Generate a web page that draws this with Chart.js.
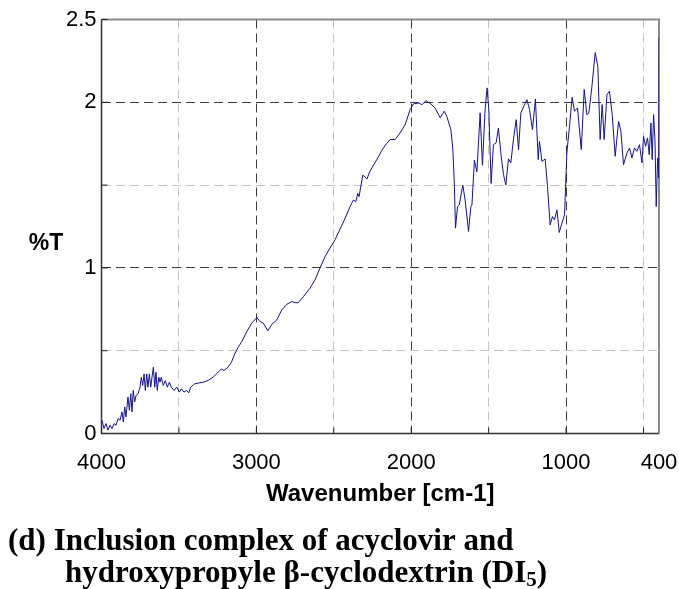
<!DOCTYPE html>
<html>
<head>
<meta charset="utf-8">
<title>FTIR DI5</title>
<script src="https://cdn.jsdelivr.net/npm/chart.js@4.4.0/dist/chart.umd.min.js"></script>
<style>
  body { margin: 0; background: #fff; }
</style>
</head>
<body>
<canvas id="myChartIR" width="679" height="589"></canvas>
<script>

// spectrum values (cm-1 , %T)
var wavenumber = [
  3997, 3984, 3971, 3958, 3945, 3932, 3919, 3906, 3893, 3880, 3868, 3859, 3850, 3842, 3829, 3820,
  3811, 3803, 3795, 3786, 3777, 3764, 3751, 3743, 3734, 3725, 3717, 3708, 3700, 3691, 3682, 3674,
  3665, 3656, 3648, 3640, 3630, 3622, 3614, 3601, 3588, 3575, 3562, 3549, 3532, 3514, 3497, 3484,
  3467, 3450, 3437, 3424, 3398, 3372, 3342, 3312, 3280, 3252, 3226, 3209, 3183, 3161, 3140, 3118,
  3094, 3062, 3030, 2997, 2976, 2955, 2926, 2900, 2868, 2836, 2804, 2771, 2750, 2729, 2696, 2653,
  2621, 2589, 2556, 2524, 2492, 2459, 2427, 2395, 2373, 2358, 2345, 2337, 2324, 2313, 2298, 2285,
  2272, 2244, 2212, 2190, 2160, 2136, 2104, 2072, 2039, 2007, 1986, 1953, 1931, 1904, 1873, 1846,
  1813, 1787, 1770, 1744, 1731, 1721, 1714, 1701, 1690, 1667, 1652, 1630, 1615, 1608, 1592, 1576,
  1555, 1540, 1523, 1510, 1499, 1484, 1469, 1452, 1437, 1419, 1404, 1389, 1372, 1357, 1340, 1322,
  1307, 1292, 1271, 1253, 1236, 1217, 1198, 1180, 1172, 1156, 1135, 1120, 1103, 1088, 1075, 1059,
  1044, 1027, 1010, 995, 978, 961, 946, 926, 902, 883, 866, 853, 833, 812, 795, 780,
  767, 754, 736, 720, 702, 683, 661, 646, 629, 607, 590, 575, 558, 543, 526, 510,
  500, 487, 474, 463, 452, 444, 435, 426, 418, 409, 402, 400
];
var transmittance = [
  0.08, 0.03, 0.06, 0.02, 0.05, 0.03, 0.06, 0.05, 0.09, 0.08, 0.13, 0.07, 0.16, 0.10, 0.22, 0.14,
  0.24, 0.13, 0.26, 0.19, 0.23, 0.24, 0.28, 0.34, 0.29, 0.36, 0.26, 0.36, 0.28, 0.36, 0.28, 0.34,
  0.40, 0.28, 0.37, 0.26, 0.34, 0.31, 0.34, 0.29, 0.32, 0.28, 0.31, 0.28, 0.26, 0.28, 0.25, 0.27,
  0.25, 0.26, 0.245, 0.28, 0.30, 0.305, 0.31, 0.32, 0.34, 0.365, 0.39, 0.38, 0.40, 0.43, 0.48, 0.52,
  0.555, 0.615, 0.666, 0.70, 0.676, 0.666, 0.62, 0.66, 0.686, 0.746, 0.78, 0.797, 0.79, 0.79, 0.827, 0.878,
  0.928, 0.999, 1.069, 1.12, 1.17, 1.235, 1.30, 1.37, 1.41, 1.40, 1.45, 1.43, 1.50, 1.56, 1.55, 1.537,
  1.573, 1.62, 1.67, 1.71, 1.75, 1.775, 1.775, 1.815, 1.865, 1.956, 1.99, 1.996, 1.986, 2.01, 1.99, 1.966,
  1.906, 1.946, 1.915, 1.835, 1.714, 1.49, 1.24, 1.37, 1.38, 1.50, 1.41, 1.22, 1.37, 1.38, 1.65, 1.58,
  1.936, 1.62, 1.956, 2.087, 1.956, 1.51, 1.744, 1.755, 1.845, 1.674, 1.563, 1.50, 1.658, 1.634, 1.775, 1.895,
  1.714, 1.936, 1.98, 2.016, 1.956, 1.835, 2.02, 1.654, 1.764, 1.643, 1.658, 1.49, 1.26, 1.31, 1.29, 1.35,
  1.214, 1.27, 1.32, 1.694, 1.855, 2.03, 1.946, 1.966, 1.714, 2.077, 1.926, 1.936, 2.097, 2.30, 2.218, 1.775,
  1.986, 1.775, 2.047, 2.067, 1.926, 1.674, 1.885, 1.825, 1.623, 1.694, 1.724, 1.664, 1.724, 1.704, 1.744, 1.634,
  1.794, 1.734, 1.785, 1.684, 1.875, 1.654, 1.926, 1.775, 1.37, 1.664, 1.543, 2.39
];

// axis ticks
var xTickValues = [4000, 3500, 3000, 2500, 2000, 1500, 1000, 500, 400];
var xLabelValues = [4000, 3000, 2000, 1000, 400];
var xMajorGrid = [3000, 2000, 1000];
var yTickValues = [0, 0.5, 1, 1.5, 2, 2.5];
var yLabelValues = [0, 1, 2, 2.5];
var yMajorGrid = [1, 2];

var xTitle = 'Wavenumber [cm-1]';
var yTitle = '%T';
var captionLine1 = '(d) Inclusion complex of acyclovir and';
var captionLine2 = 'hydroxypropyle \u03b2-cyclodextrin (DI';
var captionSub = '5';

var points = wavenumber.map(function (w, i) { return { x: w, y: transmittance[i] }; });

function gridColor(ctx, major, edges) {
  var v = ctx.tick ? ctx.tick.value : null;
  if (edges.indexOf(v) >= 0) return 'rgba(0,0,0,0)';
  if (major.indexOf(v) >= 0) return '#3a3a3a';
  return '#c4c4c4';
}

// frame and inner tick marks (under the spectrum), titles and caption
var decorPlugin = {
  id: 'decor',
  beforeDatasetsDraw: function (chart) {
    var c = chart.ctx;
    var a = chart.chartArea;
    var xs = chart.scales.x, ys = chart.scales.y;
    c.save();

    // top and right edge
    c.strokeStyle = '#8a8a8a';
    c.lineWidth = 2;
    c.beginPath();
    c.moveTo(a.left, a.top);
    c.lineTo(a.right, a.top);
    c.lineTo(a.right, a.bottom);
    c.stroke();
    // left and bottom edge
    c.strokeStyle = '#333';
    c.lineWidth = 1.5;
    c.beginPath();
    c.moveTo(a.left, a.top);
    c.lineTo(a.left, a.bottom);
    c.lineTo(a.right, a.bottom);
    c.stroke();

    // short ticks inside the frame
    c.lineWidth = 1;
    c.strokeStyle = '#222';
    xs.ticks.forEach(function (t) {
      if (t.value === 400) return;
      var px = xs.getPixelForValue(t.value);
      c.beginPath();
      c.moveTo(px, a.bottom);
      c.lineTo(px, a.bottom - 6);
      c.stroke();
    });
    ys.ticks.forEach(function (t) {
      var py = ys.getPixelForValue(t.value);
      c.beginPath();
      c.moveTo(a.left, py);
      c.lineTo(a.left + 6, py);
      c.stroke();
    });
    c.restore();
  },
  afterDraw: function (chart) {
    var c = chart.ctx;
    var a = chart.chartArea;
    c.save();
    c.fillStyle = '#000';
    c.textBaseline = 'middle';
    c.textAlign = 'center';
    c.font = 'bold 24px "Liberation Sans", Arial, sans-serif';
    c.fillText(xTitle, (a.left + a.right) / 2, 494);
    c.font = 'bold 23px "Liberation Sans", Arial, sans-serif';
    c.fillText(yTitle, 46, 244);

    // caption underneath
    c.textAlign = 'left';
    c.textBaseline = 'alphabetic';
    c.font = 'bold 31px "Liberation Serif", "Times New Roman", serif';
    c.fillText(captionLine1, 8, 550);
    c.fillText(captionLine2, 65, 582);
    var w2 = c.measureText(captionLine2).width;
    c.font = 'bold 21px "Liberation Serif", "Times New Roman", serif';
    c.fillText(captionSub, 65 + w2, 586);
    var w3 = c.measureText(captionSub).width;
    c.font = 'bold 31px "Liberation Serif", "Times New Roman", serif';
    c.fillText(')', 65 + w2 + w3, 582);
    c.restore();
  }
};

var ctx = document.getElementById('myChartIR').getContext('2d');
var chartIR = new Chart(ctx, {
    // The type of chart we want to create
    type: 'line',

    // The data for our dataset
    data: {
        datasets: [{
            label: '%T',
            data: points,
            borderColor: '#13138c',
            borderWidth: 1,
            backgroundColor: 'transparent',
            pointRadius: 0,
            tension: 0,
            fill: false
        }]
    },

    // Configuration options go here
    options: {
        responsive: false,
        animation: false,
        devicePixelRatio: 1,
        layout: { padding: { left: 0, right: 20, top: 19.5, bottom: 0 } },
        plugins: {
            legend: { display: false },
            tooltip: { enabled: false }
        },
        scales: {
            x: {
                type: 'linear',
                reverse: true,
                min: 400,
                max: 4000,
                afterBuildTicks: function (scale) {
                    scale.ticks = xTickValues.map(function (v) { return { value: v }; });
                },
                afterFit: function (scale) {
                    scale.height = 155.5;
                    scale.paddingLeft = 0;
                    scale.paddingRight = 0;
                },
                grid: {
                    drawTicks: false,
                    lineWidth: 1,
                    color: function (c) { return gridColor(c, xMajorGrid, [4000, 400]); }
                },
                border: { display: false, dash: [9, 5] },
                ticks: {
                    autoSkip: false,
                    maxRotation: 0,
                    padding: 16,
                    color: '#000',
                    font: { family: '"Liberation Sans", Arial, sans-serif', size: 22 },
                    callback: function (v) { return xLabelValues.indexOf(v) >= 0 ? String(v) : ''; }
                }
            },
            y: {
                min: 0,
                max: 2.5,
                afterBuildTicks: function (scale) {
                    scale.ticks = yTickValues.map(function (v) { return { value: v }; });
                },
                afterFit: function (scale) {
                    scale.width = 101.5;
                    scale.paddingTop = 0;
                    scale.paddingBottom = 0;
                },
                grid: {
                    drawTicks: false,
                    lineWidth: 1,
                    color: function (c) { return gridColor(c, yMajorGrid, [0, 2.5]); }
                },
                border: { display: false, dash: [9, 5] },
                ticks: {
                    padding: 5,
                    color: '#000',
                    font: { family: '"Liberation Sans", Arial, sans-serif', size: 22 },
                    callback: function (v) { return yLabelValues.indexOf(v) >= 0 ? String(v) : ''; }
                }
            }
        }
    },
    plugins: [decorPlugin]
});
</script>
</body>
</html>
